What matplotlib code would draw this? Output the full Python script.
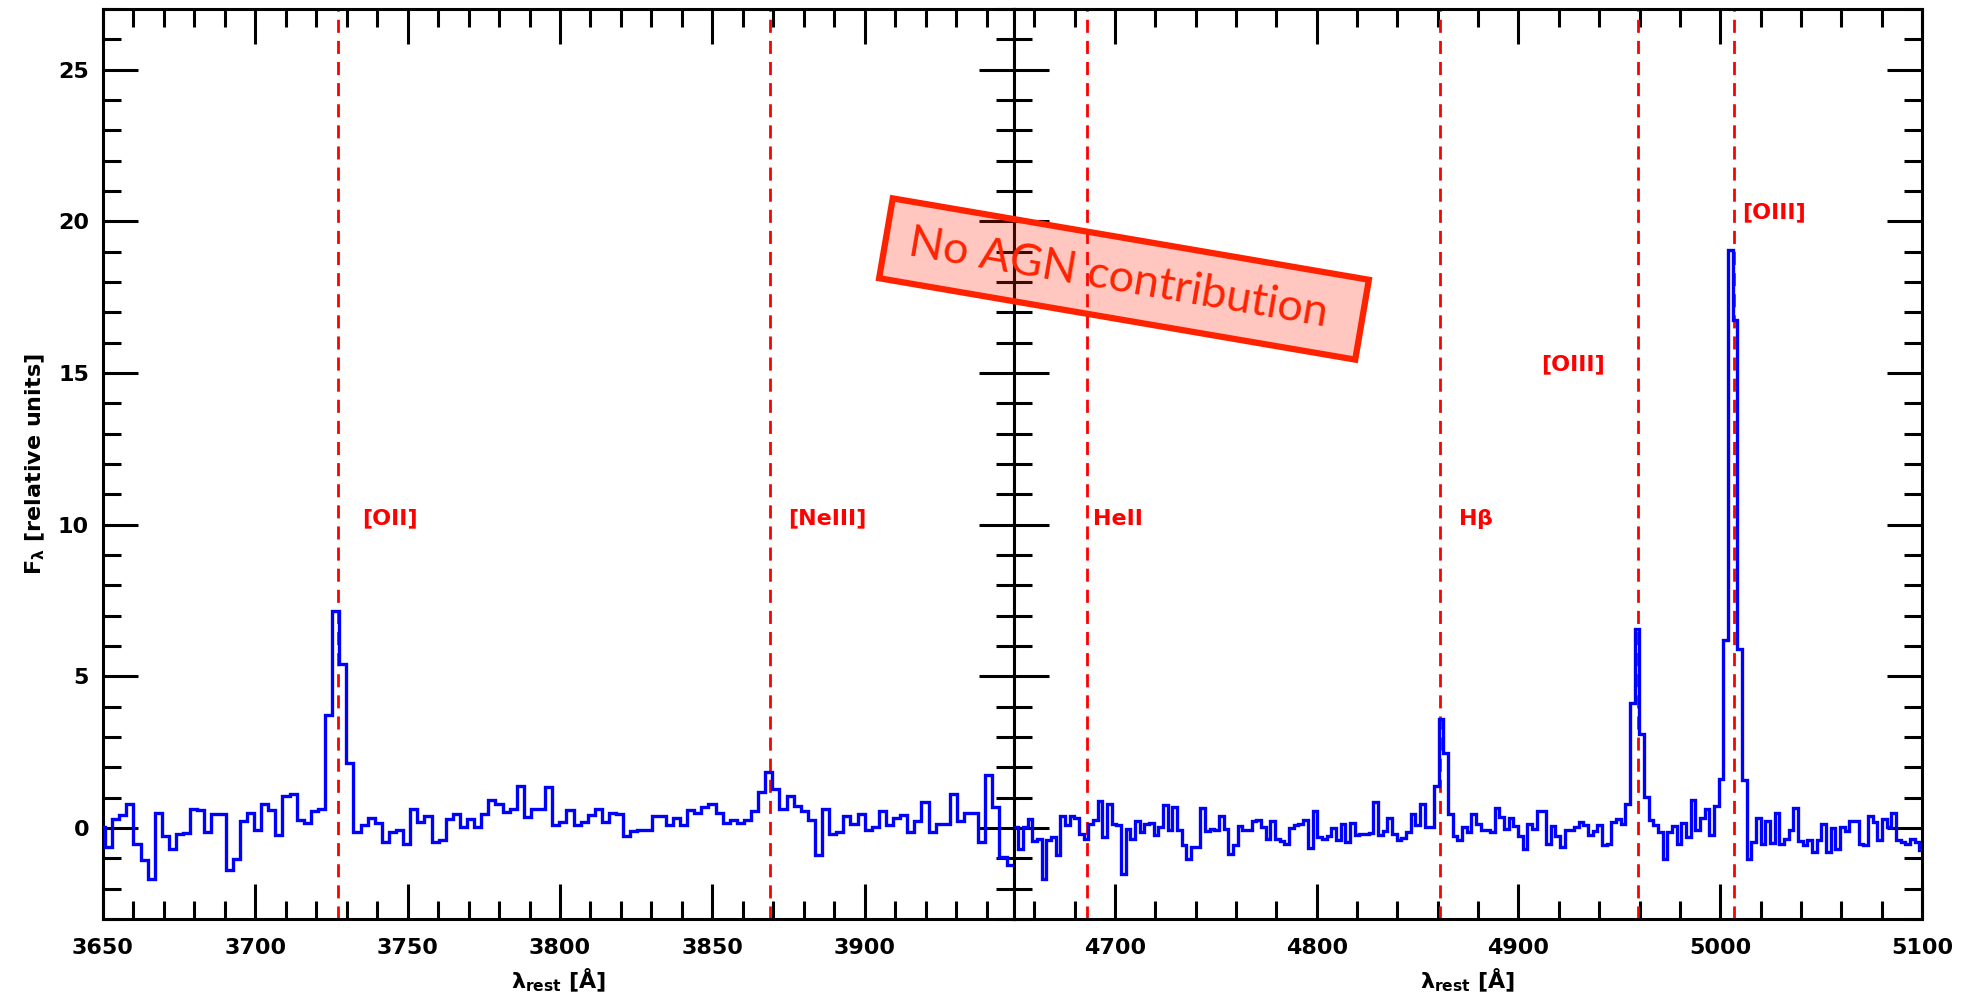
import numpy as np
import matplotlib.pyplot as plt
from matplotlib.ticker import MultipleLocator
from matplotlib.patches import Rectangle

plt.rcParams['mathtext.fontset'] = 'dejavusans'

# spectrum, left window ([OII] / [NeIII]) -- constant bin width, fluxes read bin by bin
left_start = 3648.33
left_width = 2.33
left_flux = [0.03,
             -0.63, 0.31, 0.42, 0.78, -0.52, -1.07, -1.67, 0.51, -0.27, -0.69,
             -0.21, -0.16, 0.63, 0.58, -0.13, 0.45, 0.45, -1.37, -1.01, 0.23,
             0.51, -0.05, 0.80, 0.58, -0.23, 1.04, 1.13, 0.27, 0.16, 0.56,
             0.63, 3.71, 7.15, 5.40, 2.15, -0.13, 0.11, 0.34, 0.18, -0.47,
             -0.13, -0.05, -0.52, 0.63, 0.20, 0.41, -0.46, -0.41, 0.31, 0.45,
             0.03, 0.31, 0.03, 0.45, 0.91, 0.80, 0.53, 0.63, 1.40, 0.36,
             0.63, 0.63, 1.35, 0.09, 0.20, 0.58, 0.09, 0.20, 0.42, 0.63,
             0.20, 0.51, 0.45, -0.27, -0.10, -0.08, -0.05, 0.38, 0.38, 0.09,
             0.34, 0.09, 0.58, 0.51, 0.69, 0.78, 0.51, 0.16, 0.27, 0.16,
             0.27, 0.56, 1.19, 1.85, 1.30, 0.63, 1.04, 0.71, 0.56, 0.27,
             -0.90, 0.63, -0.19, -0.13, 0.38, 0.14, 0.45, -0.08, 0.03, 0.56,
             0.09, 0.34, 0.42, -0.13, 0.23, 0.86, -0.13, 0.14, 0.12, 1.13,
             0.23, 0.49, 0.49, -0.46, 1.74, 0.69, -0.96, -1.23]

# right window (HeII / Hb / [OIII])
right_start = 4649.9
right_width = 2.313
right_flux = [0.03, -0.68, 0.03, 0.31, -0.44, -0.35, -1.69, -0.41, -0.30, -0.88,
              0.38, 0.11, 0.38, 0.34, -0.19, -0.35, 0.12, 0.27, 0.89, -0.30,
              0.80, 0.14, 0.09, -1.51, -0.02, -0.35, 0.22, -0.13, 0.14, 0.18,
              -0.24, 0.03, 0.75, -0.08, 0.69, -0.08, -0.57, -1.01, -0.63, -0.63,
              0.67, -0.11, -0.02, -0.08, 0.40, -0.02, -0.85, -0.57, 0.05, -0.08,
              -0.08, 0.22, 0.27, 0.03, -0.35, 0.22, -0.35, -0.44, -0.52, 0.00,
              0.11, 0.12, 0.27, -0.65, 0.56, -0.30, -0.35, -0.27, -0.01, -0.41,
              0.12, -0.46, 0.16, -0.24, -0.19, -0.19, -0.16, 0.86, -0.24, -0.10,
              0.34, -0.21, -0.41, -0.32, -0.13, 0.47, 0.09, 0.80, 0.03, 0.03,
              1.37, 3.60, 2.47, 0.47, -0.27, -0.41, 0.03, -0.13, 0.45, 0.12,
              -0.05, -0.05, -0.13, 0.67, 0.36, -0.02, 0.34, 0.05, -0.27, -0.69,
              0.14, -0.02, 0.56, 0.56, -0.54, 0.05, -0.27, -0.63, -0.05, -0.05,
              0.03, 0.20, 0.09, -0.24, -0.10, 0.09, -0.57, -0.52, 0.20, 0.29,
              0.14, 0.80, 4.12, 6.55, 3.11, 1.02, 0.27, 0.09, -0.13, -1.03,
              -0.13, 0.05, -0.54, 0.16, -0.30, 0.91, -0.05, 0.34, 0.64, -0.24,
              0.71, 1.63, 6.21, 19.05, 16.74, 5.91, 1.57, -1.03, -0.46, 0.34,
              -0.52, 0.23, -0.49, 0.51, -0.52, -0.35, -0.05, 0.67, -0.43, -0.57,
              -0.41, -0.80, -0.38, 0.14, -0.80, 0.00, -0.69, 0.03, -0.10, 0.23,
              0.23, -0.52, -0.57, 0.38, 0.20, -0.41, 0.31, 0.03, 0.51, -0.41,
              -0.46, -0.54, -0.35, -0.46, -0.74]

# emission lines: wavelength, label, label x, label y
left_lines = [3727, 3869]
left_names = ['[OII]', '[NeIII]']
left_lab_x = [3735, 3875]
left_lab_y = [10.2, 10.2]
right_lines = [4686, 4861, 4959, 5007]
right_names = ['HeII', r'H$\mathbf{\beta}$', '[OIII]', '[OIII]']
right_lab_x = [4689, 4870, 4911, 5011]
right_lab_y = [10.2, 10.2, 15.3, 20.3]

fig = plt.figure(figsize=(19.8, 10.05), dpi=100)
ax1 = fig.add_axes([0.05202, 0.08557, 0.4601, 0.9055])
ax2 = fig.add_axes([0.51212, 0.08557, 0.4586, 0.9055])


def draw_panel(ax, start, width, flux, lines, names, lab_x, lab_y, xlim, xmaj, xmin):
    edges = start + width * np.arange(len(flux) + 1)
    ax.stairs(flux, edges, baseline=None, color='blue', lw=2.4, zorder=3)
    for lam in lines:
        ax.axvline(lam, color='red', lw=2.0, dashes=(4.7, 2.9), zorder=2)
    for name, x, y in zip(names, lab_x, lab_y):
        ax.text(x, y, name, color='red', fontsize=16, fontweight='bold',
                va='center', ha='left')
    ax.set_xlim(*xlim)
    ax.set_ylim(-3, 27)
    ax.xaxis.set_major_locator(MultipleLocator(xmaj))
    ax.xaxis.set_minor_locator(MultipleLocator(xmin))
    ax.yaxis.set_major_locator(MultipleLocator(5))
    ax.yaxis.set_minor_locator(MultipleLocator(1))
    ax.tick_params(which='both', direction='in', top=True, right=True,
                   width=2.2, color='black')
    ax.tick_params(which='major', length=25, pad=14)
    ax.tick_params(which='minor', length=13)
    for s in ax.spines.values():
        s.set_linewidth(2.2)
    for lab in ax.get_xticklabels() + ax.get_yticklabels():
        lab.set_fontweight('bold')
        lab.set_fontsize(16)
    ax.set_xlabel(r'$\mathbf{\lambda_{rest}}$ [Å]', fontsize=16,
                  fontweight='bold', labelpad=6)


draw_panel(ax1, left_start, left_width, left_flux, left_lines, left_names,
           left_lab_x, left_lab_y, (3650, 3949), 50, 10)
draw_panel(ax2, right_start, right_width, right_flux, right_lines, right_names,
           right_lab_x, right_lab_y, (4650, 5100), 100, 20)

ax1.set_ylabel(r'F$_{\mathbf{\lambda}}$ [relative units]', fontsize=16,
               fontweight='bold', labelpad=8)
ax1.tick_params(axis='y', which='major', pad=10)
ax2.tick_params(labelleft=False)

# the "No AGN contribution" stamp, drawn in figure inches
cx, cy = 11.24, 7.26
box_w, box_h = 4.83, 0.81
angle = -9.7
stamp = Rectangle((cx - box_w / 2, cy - box_h / 2), box_w, box_h, angle=angle,
                  rotation_point='center', transform=fig.dpi_scale_trans,
                  facecolor=(1.0, 0.133, 0.0, 0.25), edgecolor='#FF2200',
                  lw=4.5, zorder=10)
fig.add_artist(stamp)
fig.text(11.18, cy + 0.01, 'No AGN contribution', transform=fig.dpi_scale_trans,
         rotation=angle, rotation_mode='anchor', ha='center', va='center',
         fontsize=32.5, color='#FF2200', family=['Lato', 'DejaVu Sans'], zorder=11)

fig.savefig('out.png', dpi=100)
